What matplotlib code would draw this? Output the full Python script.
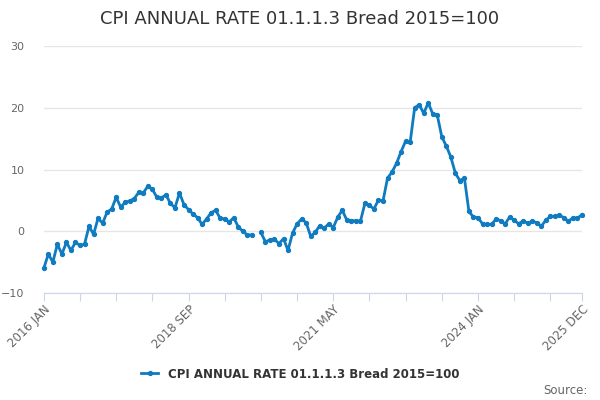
import matplotlib
matplotlib.use('Agg')
import matplotlib.pyplot as plt
import numpy as np

# monthly annual rate, 2016 JAN .. 2025 DEC (None = missing)
rate = [
    -6.0, -3.7, -5.0, -2.1, -3.7, -1.8, -3.1, -1.8, -2.3, -2.1, 0.8, -0.5,   # 2016
    2.1, 1.3, 3.1, 3.6, 5.5, 3.9, 4.7, 4.9, 5.3, 6.3, 6.2, 7.3,              # 2017
    6.8, 5.5, 5.4, 5.9, 4.5, 3.8, 6.2, 4.3, 3.5, 2.8, 2.2, 1.1,              # 2018
    2.0, 3.0, 3.4, 2.1, 2.0, 1.5, 2.2, 0.7, 0.0, -0.6, -0.6, None,           # 2019
    -0.2, -1.7, -1.4, -1.3, -2.0, -1.2, -3.1, -0.3, 1.2, 2.0, 1.4, -0.8,     # 2020
    -0.2, 0.9, 0.5, 1.2, 0.6, 2.3, 3.4, 1.8, 1.7, 1.7, 1.6, 4.5,             # 2021
    4.2, 3.6, 5.1, 4.9, 8.6, 9.6, 11.0, 12.9, 14.6, 14.4, 20.0, 20.5,        # 2022
    19.1, 20.8, 19.0, 18.8, 15.3, 13.8, 12.0, 9.4, 8.2, 8.6, 3.2, 2.3,       # 2023
    2.2, 1.2, 1.1, 1.1, 2.0, 1.7, 1.2, 2.3, 1.8, 1.2, 1.7, 1.3,              # 2024
    1.6, 1.4, 0.8, 1.8, 2.4, 2.4, 2.6, 2.2, 1.6, 2.2, 2.1, 2.7,              # 2025
]
tick_labels = {0: '2016 JAN', 32: '2018 SEP', 64: '2021 MAY', 96: '2024 JAN', 119: '2025 DEC'}
series_name = 'CPI ANNUAL RATE 01.1.1.3 Bread 2015=100'

plt.rcParams['font.family'] = 'DejaVu Sans'

fig = plt.figure(figsize=(6, 4), dpi=100)
ax = fig.add_axes([0.073, 0.2675, 0.897, 0.6175])

x = np.arange(len(rate))
y = np.array([np.nan if v is None else v for v in rate])
ax.plot(x, y, color='#0f7bc0', linewidth=2, marker='o', markersize=2.8,
        label=series_name, clip_on=False)

ax.set_xlim(0, len(rate) - 1)
ax.set_ylim(-10, 30)
ax.set_yticks([-10, 0, 10, 20, 30])
ax.grid(axis='y', color='#e6e6e6', linewidth=1)
ax.set_axisbelow(True)

for s in ['top', 'right', 'left']:
    ax.spines[s].set_visible(False)
ax.spines['bottom'].set_color('#ccd6eb')

ticks = list(range(0, 113, 8)) + [119]
ax.set_xticks(ticks)
ax.set_xticklabels([tick_labels.get(i, '') for i in ticks],
                   rotation=45, ha='right', rotation_mode='anchor', fontsize=8.5, color='#666666')
ax.tick_params(axis='x', length=6, color='#ccd6eb', pad=1)
ax.tick_params(axis='y', length=0, labelsize=8, labelcolor='#666666', pad=14)

fig.suptitle(series_name, y=0.975, fontsize=13, color='#333333')

fig.legend(loc='center', bbox_to_anchor=(0.5, 0.065), frameon=False,
           prop={'weight': 'bold', 'size': 8.5}, labelcolor='#333333', handlelength=1.5)
fig.text(0.98, 0.015, 'Source:', ha='right', fontsize=8.5, color='#666666')

plt.savefig('out.png', dpi=100)
plt.close()
